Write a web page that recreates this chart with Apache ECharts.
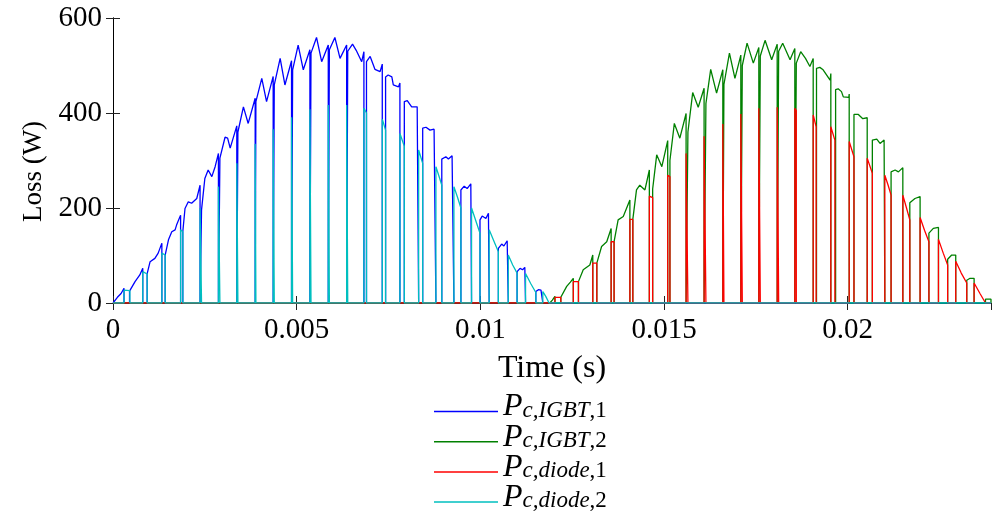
<!DOCTYPE html>
<html>
<head>
<meta charset="utf-8">
<script src="https://cdn.jsdelivr.net/npm/echarts@6/dist/echarts.min.js"></script>
<style>
html,body{margin:0;padding:0;background:#fff;}
#chart{width:992px;height:517px;}
</style>
</head>
<body>
<div id="chart"></div>
<script>
// ---- Data (time in ms, loss in W) ----
const xTicks = [0, 0.005, 0.01, 0.015, 0.02];
const yTicks = [0, 200, 400, 600];
const seriesNames = ['Pc,IGBT,1', 'Pc,IGBT,2', 'Pc,diode,1', 'Pc,diode,2'];
const legendSub = ['c,IGBT', 'c,IGBT', 'c,diode', 'c,diode'];
const legendIdx = ['1', '2', '1', '2'];
const seriesColors = ['#0000ff', '#008000', '#ff0000', '#00bfbf'];

// conduction segments of IGBT 1 (first half cycle)
const igbt1Segs = [
 [[0,2],[0.12,12],[0.22,20],[0.30,31]],
 [[0.45,25],[0.60,45],[0.73,59],[0.81,73]],
 [[0.93,62],[1.01,87],[1.14,94],[1.23,105],[1.33,126]],
 [[1.42,101],[1.51,133],[1.60,150],[1.69,154],[1.73,164],[1.84,185]],
 [[1.90,150],[1.96,199],[2.05,213],[2.14,210],[2.28,220],[2.37,248]],
 [[2.41,196],[2.50,262],[2.59,280],[2.69,266],[2.78,287],[2.87,315]],
 [[2.91,305],[3.05,349],[3.12,347],[3.19,326],[3.37,373]],
 [[3.40,360],[3.55,413],[3.68,378],[3.87,431]],
 [[3.89,424],[4.05,473],[4.18,424],[4.36,477]],
 [[4.39,459],[4.55,515],[4.68,459],[4.86,510]],
 [[4.89,491],[5.04,543],[5.18,491],[5.36,533]],
 [[5.39,526],[5.54,559],[5.68,508],[5.86,543]],
 [[5.89,533],[6.04,559],[6.18,515],[6.36,543]],
 [[6.39,530],[6.52,545],[6.62,532],[6.77,508],[6.83,529]],
 [[6.90,508],[7.00,519],[7.13,492],[7.27,487],[7.33,503]],
 [[7.42,476],[7.49,480],[7.59,476],[7.63,459],[7.77,455],[7.81,463]],
 [[7.93,424],[8.01,426],[8.13,413],[8.28,413],[8.32,416]],
 [[8.43,368],[8.52,370],[8.63,364],[8.74,366],[8.79,364]],
 [[8.95,303],[9.06,308],[9.13,303],[9.23,310],[9.28,312]],
 [[9.47,238],[9.56,246],[9.64,241],[9.74,251],[9.76,250]],
 [[9.99,175],[10.05,183],[10.15,178],[10.22,189],[10.24,188]],
 [[10.49,115],[10.58,124],[10.64,120],[10.73,131],[10.76,130]],
 [[11.00,66],[11.08,73],[11.15,70],[11.21,75],[11.23,74]],
 [[11.51,24],[11.58,28],[11.65,27],[11.70,28]]
];

// conduction segments of diode 2 (first half cycle)
const diode2Segs = [
 [[0.30,27],[0.46,26]],
 [[0.81,66],[0.93,61]],
 [[1.33,105],[1.42,101]],
 [[1.84,154],[1.90,150]],
 [[2.37,200],[2.41,197]],
 [[2.87,245],[2.91,242]],
 [[3.37,294],[3.40,290]],
 [[3.87,335],[3.89,333]],
 [[4.36,366],[4.39,364]],
 [[4.86,391],[4.89,390]],
 [[5.36,408],[5.39,407]],
 [[5.86,417],[5.89,416]],
 [[6.36,417],[6.39,416]],
 [[6.83,410],[6.90,400]],
 [[7.33,387],[7.42,364]],
 [[7.81,357],[7.93,330]],
 [[8.32,322],[8.43,294]],
 [[8.79,287],[8.87,268],[8.95,248]],
 [[9.28,245],[9.38,222],[9.47,200]],
 [[9.76,200],[9.88,172],[9.99,147]],
 [[10.24,154],[10.37,130],[10.49,108]],
 [[10.76,101],[10.88,80],[11.00,63]],
 [[11.23,62],[11.37,41],[11.51,22]],
 [[11.70,24],[11.78,14],[11.87,0]]
];

// conduction segments of IGBT 2 (second half cycle)
const igbt2Segs = [
 [[11.89,0],[11.96,6],[12.03,14]],
 [[12.19,12],[12.35,35],[12.45,44],[12.53,52]],
 [[12.67,45],[12.80,70],[12.98,80],[13.06,101]],
 [[13.17,84],[13.30,119],[13.44,129],[13.56,157]],
 [[13.64,129],[13.75,175],[13.89,182],[14.07,217]],
 [[14.15,176],[14.25,238],[14.34,248],[14.48,238],[14.60,280]],
 [[14.69,240],[14.80,312],[14.94,287],[15.10,342]],
 [[15.16,300],[15.28,378],[15.43,347],[15.60,399]],
 [[15.65,360],[15.78,443],[15.93,412],[16.09,452]],
 [[16.14,420],[16.27,492],[16.43,442],[16.60,491]],
 [[16.63,460],[16.78,526],[16.93,473],[17.09,522]],
 [[17.13,500],[17.26,547],[17.43,505],[17.58,538]],
 [[17.62,520],[17.75,553],[17.93,512],[18.08,545]],
 [[18.12,530],[18.23,547],[18.43,512],[18.56,536]],
 [[18.60,505],[18.72,529],[18.85,515],[18.97,498],[19.06,515]],
 [[19.15,494],[19.24,496],[19.33,491],[19.52,469],[19.54,483]],
 [[19.67,449],[19.74,451],[19.83,445],[19.88,434],[20.03,433],[20.04,440]],
 [[20.17,397],[20.29,397],[20.41,388],[20.53,390]],
 [[20.67,343],[20.79,345],[20.88,336],[20.99,343],[21.01,342]],
 [[21.18,276],[21.29,280],[21.38,276],[21.50,285]],
 [[21.69,211],[21.83,220],[21.97,224]],
 [[22.21,147],[22.33,157],[22.47,159]],
 [[22.72,92],[22.83,101],[22.94,101]],
 [[23.24,48],[23.33,52],[23.44,52]],
 [[23.75,8],[23.90,8]]
];

// conduction segments of diode 1 (second half cycle)
const diode1Segs = [
 [[12.03,12],[12.19,12]],
 [[12.53,45],[12.67,45]],
 [[13.06,84],[13.17,84]],
 [[13.56,129],[13.64,129]],
 [[14.07,176],[14.15,176]],
 [[14.60,225],[14.69,222]],
 [[15.10,269],[15.16,266]],
 [[15.60,315],[15.65,313]],
 [[16.09,351],[16.14,349]],
 [[16.60,377],[16.63,376]],
 [[17.09,398],[17.13,397]],
 [[17.58,410],[17.62,409]],
 [[18.08,412],[18.12,411]],
 [[18.56,410],[18.60,405]],
 [[19.06,396],[19.14,371]],
 [[19.54,371],[19.65,343]],
 [[20.04,340],[20.17,308]],
 [[20.53,305],[20.67,273]],
 [[21.01,269],[21.10,248],[21.18,227]],
 [[21.50,227],[21.60,200],[21.69,175]],
 [[21.97,180],[22.09,153],[22.21,129]],
 [[22.47,134],[22.60,105],[22.72,80]],
 [[22.94,88],[23.09,63],[23.24,42]],
 [[23.44,42],[23.60,20],[23.75,0]]
];

const tEndMs = 23.9;

// ---- build series: zero outside conduction, vertical edges at switching ----
function build(segs) {
  const pts = [[0, 0]];
  segs.forEach(seg => {
    pts.push([seg[0][0], 0]);
    seg.forEach(p => pts.push([p[0], p[1]]));
    pts.push([seg[seg.length - 1][0], 0]);
  });
  pts.push([tEndMs, 0]);
  return pts.map(p => [p[0] / 1000, p[1]]);
}
const allSegs = [igbt1Segs, igbt2Segs, diode1Segs, diode2Segs];

const FONT = 'Liberation Serif';
const chart = echarts.init(document.getElementById('chart'), null, {renderer: 'canvas'});

const tickSet = v => xTicks.some(t => Math.abs(t - v) < 1e-9);
const frameAxisCommon = {
  axisLine: {show: true, lineStyle: {color: '#000', width: 1}},
  axisTick: {show: true, inside: true, length: 7, lineStyle: {color: '#222'}},
  splitLine: {show: false}
};

const richLegend = {
  p: {fontFamily: FONT, fontStyle: 'italic', fontSize: 32, lineHeight: 21, padding: [0, 0, 9, 0], color: '#000'},
  s: {fontFamily: FONT, fontStyle: 'italic', fontSize: 23, lineHeight: 18, padding: [0, 0, 0, 0], verticalAlign: 'bottom', color: '#000'},
  n: {fontFamily: FONT, fontSize: 23, lineHeight: 18, padding: [0, 0, 0, 0], verticalAlign: 'bottom', color: '#000'}
};

const option = {
  animation: false,
  backgroundColor: '#fff',
  grid: {left: 113, right: 1, top: 18, bottom: 214, containLabel: false},
  legend: {
    orient: 'vertical',
    left: 434,
    top: 391,
    width: 300,
    height: 300,
    padding: 0,
    itemGap: -10.8,
    itemWidth: 64,
    itemHeight: 1.5,
    icon: 'rect',
    data: seriesNames,
    formatter: name => {
      const i = seriesNames.indexOf(name);
      return '{p|P}{s|' + legendSub[i] + '}{n|,' + legendIdx[i] + '}';
    },
    textStyle: {rich: richLegend}
  },
  xAxis: [
    Object.assign({
      type: 'value', position: 'bottom', min: 0, max: tEndMs / 1000 , interval: 0.005,
      name: 'Time (s)', nameLocation: 'middle', nameGap: 50,
      nameTextStyle: {fontFamily: FONT, fontSize: 32, color: '#000'},
      axisLabel: {
        show: true, margin: 13, fontFamily: FONT, fontSize: 29, color: '#000',
        showMaxLabel: false,
        formatter: v => tickSet(v) ? String(+v.toFixed(4)) : ''
      }
    }, frameAxisCommon),
    Object.assign({
      type: 'value', position: 'top', min: 0, max: tEndMs / 1000, interval: 0.005,
      axisLabel: {show: false}
    }, frameAxisCommon)
  ],
  yAxis: [
    Object.assign({
      type: 'value', position: 'left', min: 0, max: 600, interval: 200,
      name: 'Loss (W)', nameLocation: 'middle', nameGap: 66, nameRotate: 90,
      nameTextStyle: {fontFamily: FONT, fontSize: 27, color: '#000', padding: [0, 22, 0, 0]},
      axisLabel: {
        show: true, margin: 11, fontFamily: FONT, fontSize: 29, color: '#000',
        formatter: v => yTicks.includes(v) ? String(v) : ''
      }
    }, frameAxisCommon),
    Object.assign({
      type: 'value', position: 'right', min: 0, max: 600, interval: 200,
      axisLabel: {show: false}
    }, frameAxisCommon)
  ],
  series: seriesNames.map((name, i) => ({
    name: name,
    type: 'line',
    xAxisIndex: 0,
    yAxisIndex: 0,
    data: build(allSegs[i]),
    showSymbol: false,
    symbol: 'none',
    sampling: null,
    silent: true,
    color: seriesColors[i],
    lineStyle: {color: seriesColors[i], width: 1.3},
    clip: true
  }))
};
chart.setOption(option);
</script>
</body>
</html>
